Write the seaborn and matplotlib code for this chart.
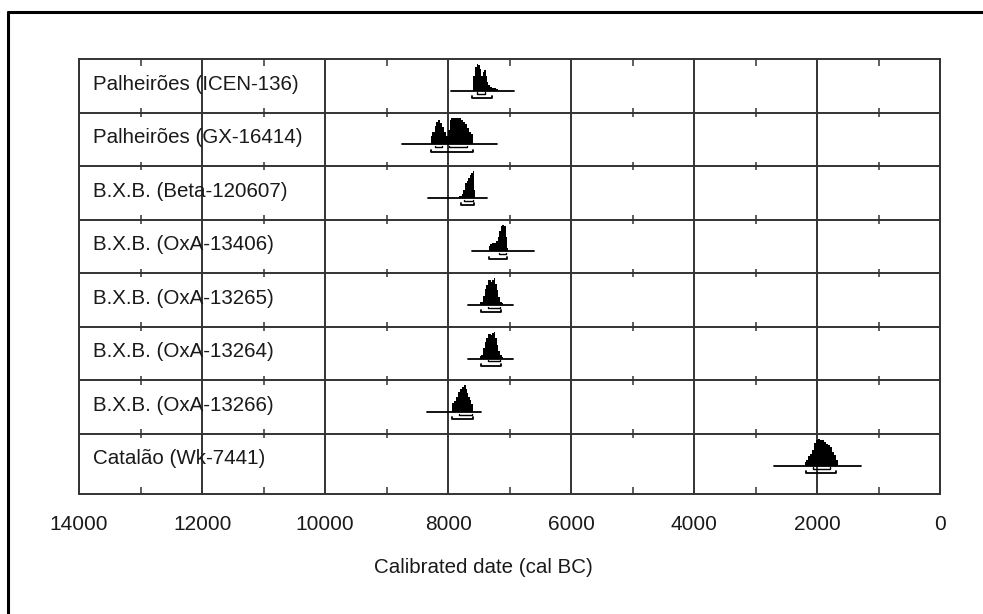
import numpy as np
import pandas as pd
import seaborn as sns
import matplotlib.pyplot as plt
from matplotlib.ticker import MultipleLocator
from matplotlib.lines import Line2D

# sample names, top to bottom
labels = ["Palheirões (ICEN-136)", "Palheirões (GX-16414)", "B.X.B. (Beta-120607)",
          "B.X.B. (OxA-13406)", "B.X.B. (OxA-13265)", "B.X.B. (OxA-13264)",
          "B.X.B. (OxA-13266)", "Catalão (Wk-7441)"]

# probability curves (cal BC, relative height)
icen_dates = [7600, 7580, 7545, 7520, 7495, 7470, 7450, 7430, 7405, 7380, 7360, 7335, 7310, 7270, 7235, 7205, 7170]
icen_prob = [0.45, 0.55, 0.9, 1.0, 0.96, 0.8, 0.55, 0.7, 0.78, 0.55, 0.33, 0.22, 0.15, 0.11, 0.11, 0.07, 0.0]

gx_dates = [8280, 8230, 8205, 8180, 8145, 8115, 8080, 8050, 8015, 7990, 7965, 7935, 7885, 7835, 7805, 7770, 7740, 7705, 7675, 7640, 7610, 7575]
gx_prob = [0.3, 0.45, 0.7, 0.85, 0.9, 0.8, 0.65, 0.45, 0.3, 0.55, 0.9, 0.97, 1.0, 1.0, 0.97, 0.9, 0.85, 0.75, 0.6, 0.45, 0.4, 0.0]

beta_dates = [7830, 7795, 7765, 7740, 7705, 7685, 7660, 7635, 7610, 7590, 7570, 7550]
beta_prob = [0.06, 0.08, 0.15, 0.3, 0.55, 0.62, 0.75, 0.85, 0.95, 1.0, 0.3, 0.0]

oxa13406_dates = [7340, 7310, 7275, 7245, 7210, 7185, 7155, 7130, 7105, 7080, 7055, 7030, 7010]
oxa13406_prob = [0.2, 0.28, 0.33, 0.3, 0.38, 0.55, 0.75, 0.95, 1.0, 0.97, 0.55, 0.12, 0.0]

oxa13265_dates = [7490, 7455, 7425, 7390, 7365, 7340, 7315, 7295, 7270, 7245, 7220, 7195, 7170, 7145, 7115, 7090]
oxa13265_prob = [0.1, 0.12, 0.35, 0.6, 0.75, 0.92, 0.95, 0.85, 0.95, 1.0, 0.8, 0.55, 0.3, 0.13, 0.08, 0.0]

oxa13264_dates = [7490, 7455, 7425, 7390, 7365, 7340, 7315, 7295, 7270, 7245, 7220, 7195, 7170, 7145, 7115, 7090]
oxa13264_prob = [0.08, 0.15, 0.4, 0.62, 0.78, 0.9, 0.93, 0.88, 0.97, 1.0, 0.78, 0.5, 0.28, 0.12, 0.06, 0.0]

oxa13266_dates = [7945, 7920, 7885, 7855, 7820, 7790, 7755, 7730, 7705, 7685, 7660, 7635, 7610, 7585]
oxa13266_prob = [0.25, 0.35, 0.4, 0.58, 0.75, 0.88, 0.95, 1.0, 0.85, 0.72, 0.55, 0.45, 0.3, 0.0]

wk_dates = [2205, 2170, 2140, 2105, 2075, 2040, 2010, 1975, 1945, 1910, 1880, 1845, 1815, 1780, 1750, 1715, 1685, 1650]
wk_prob = [0.12, 0.2, 0.35, 0.45, 0.6, 0.85, 0.95, 1.0, 0.97, 0.95, 0.9, 0.8, 0.78, 0.7, 0.5, 0.4, 0.2, 0.0]

curve_dates = [icen_dates, gx_dates, beta_dates, oxa13406_dates, oxa13265_dates, oxa13264_dates, oxa13266_dates, wk_dates]
curve_probs = [icen_prob, gx_prob, beta_prob, oxa13406_prob, oxa13265_prob, oxa13264_prob, oxa13266_prob, wk_prob]

# full horizontal line under each curve (start, end)
line_start = [7950, 8750, 8325, 7610, 7675, 7675, 8340, 2700]
line_end = [6930, 7200, 7365, 6600, 6945, 6945, 7465, 1285]

# 2 sigma and 1 sigma ranges
sig2_ranges = [[(7610, 7285)], [(8280, 7590)], [(7790, 7575)], [(7335, 7040)],
               [(7465, 7140)], [(7460, 7140)], [(7935, 7595)], [(2180, 1690)]]
sig1_ranges = [[(7530, 7400)], [(8210, 8100), (7990, 7700)], [(7740, 7590)], [(7170, 7060)],
               [(7350, 7155)], [(7345, 7160)], [(7820, 7610)], [(2065, 1790)]]

sns.set_theme(style="white")
plt.rcParams['font.family'] = ['Liberation Sans', 'DejaVu Sans']

fig = plt.figure(figsize=(9.83, 6.14), dpi=100)
ax = fig.add_axes([0.0804, 0.195, 0.8762, 0.7089])

grid_col = "#333333"
txt_col = "#1a1a1a"
n_rows = len(labels)
base_off = 0.595
peak_h = 0.5

# range lines with seaborn
rows = []
for i in range(n_rows):
    rows.append({"sample": labels[i], "date": line_start[i], "y": i + base_off})
    rows.append({"sample": labels[i], "date": line_end[i], "y": i + base_off})
lines_df = pd.DataFrame(rows)
sns.lineplot(data=lines_df, x="date", y="y", units="sample", estimator=None,
             color="black", lw=1.3, ax=ax, sort=False, legend=False)

for i in range(n_rows):
    base = i + base_off
    d = np.array(curve_dates[i])
    p = np.array(curve_probs[i])
    ax.fill_between(d, base, base - p * peak_h, step="mid", color="black", lw=0)
    for a, b in sig2_ranges[i]:
        yb = base + 0.135
        ax.plot([a, a, b, b], [yb - 0.035, yb, yb, yb - 0.035], color="black", lw=1.3)
    for a, b in sig1_ranges[i]:
        yb = base + 0.055
        ax.plot([a, a, b, b], [yb - 0.025, yb, yb, yb - 0.025], color="black", lw=1.0)
    ax.text(0.0163, i + 0.47, labels[i], transform=ax.get_yaxis_transform(),
            ha="left", va="center", fontsize=14.8, color=txt_col)

# row separators and small ticks on them
minor_pos = np.arange(1000, 14000, 2000)
for r in range(1, n_rows):
    ax.axhline(r, color=grid_col, lw=1.4, zorder=1)
    ax.vlines(minor_pos, r - 0.08, r + 0.08, color=grid_col, lw=1.1)

ax.set_xlim(14000, 0)
ax.set_ylim(n_rows + 0.13, 0)
ax.xaxis.set_major_locator(MultipleLocator(2000))
ax.xaxis.set_minor_locator(MultipleLocator(1000))
ax.grid(axis="x", which="major", color=grid_col, lw=1.4)
ax.set_axisbelow(True)
ax.set_yticks([])
ax.tick_params(axis="x", which="major", length=0, pad=15, labelsize=15, labelcolor=txt_col)
ax.tick_params(axis="x", which="minor", direction="in", length=5, width=1.1,
               top=True, bottom=True, color=grid_col)
for s in ax.spines.values():
    s.set_color(grid_col)
    s.set_linewidth(1.4)

ax.set_xlabel("Calibrated date (cal BC)", fontsize=14.8, color=txt_col)
ax.set_ylabel("")
ax.xaxis.set_label_coords(0.469, -0.147)

# outer frame, top and left edges only
fig.add_artist(Line2D([8 / 983, 1.0], [1 - 12 / 614, 1 - 12 / 614], transform=fig.transFigure, color="black", lw=2.2))
fig.add_artist(Line2D([8 / 983, 8 / 983], [0.0, 1 - 12 / 614], transform=fig.transFigure, color="black", lw=2.2))

fig.savefig("out.png", dpi=100, facecolor="white")
